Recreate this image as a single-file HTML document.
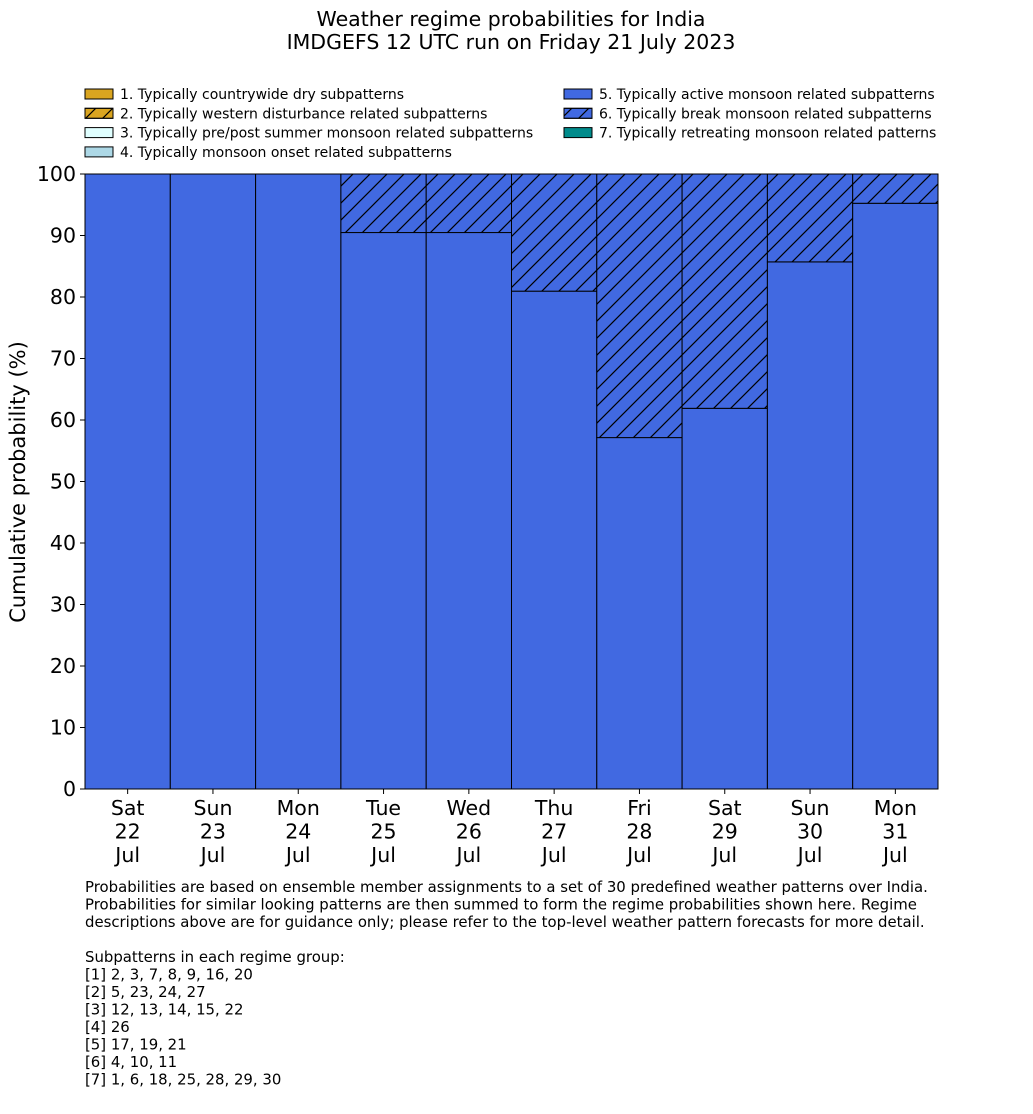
<!DOCTYPE html>
<html><head><meta charset="utf-8"><style>
body{margin:0;background:#fff;}
svg{display:block;font-family:"DejaVu Sans","Liberation Sans",sans-serif;}
</style></head><body>
<svg id="chart" width="1033" height="1114" viewBox="0 0 1033 1114">
<defs>
<pattern id="hatch" patternUnits="userSpaceOnUse" width="17" height="17">
<path d="M-2,19 L19,-2 M-4.25,4.25 L4.25,-4.25 M12.75,21.25 L21.25,12.75" stroke="#000" stroke-width="1.2"/>
</pattern>
</defs>
<text x="511" y="26" text-anchor="middle" font-size="20.5">Weather regime probabilities for India</text>
<text x="511" y="49" text-anchor="middle" font-size="20.5">IMDGEFS 12 UTC run on Friday 21 July 2023</text>
<g id="legend" font-size="14"></g>
<g id="bars"></g>
<g id="axes"></g>
<text transform="translate(25,482) rotate(-90)" text-anchor="middle" font-size="21">Cumulative probability (%)</text>
<g id="notes" font-size="14.9"></g>
</svg>
<script>
const days = ["Sat","Sun","Mon","Tue","Wed","Thu","Fri","Sat","Sun","Mon"];
const dates = ["22","23","24","25","26","27","28","29","30","31"];
const activeMonsoon = [100,100,100,90.48,90.48,80.95,57.14,61.90,85.71,95.24];
const breakMonsoon = [0,0,0,9.52,9.52,19.05,42.86,38.10,14.29,4.76];
const yTicks = [0,10,20,30,40,50,60,70,80,90,100];
const legendLabels = ["1. Typically countrywide dry subpatterns","2. Typically western disturbance related subpatterns","3. Typically pre/post summer monsoon related subpatterns","4. Typically monsoon onset related subpatterns","5. Typically active monsoon related subpatterns","6. Typically break monsoon related subpatterns","7. Typically retreating monsoon related patterns"];
const legendColors = ["#daa520","#daa520","#e0ffff","#add8e6","#4169e1","#4169e1","#008b8b"];
const legendHatch = [false,true,false,false,false,true,false];
const notes = ["Probabilities are based on ensemble member assignments to a set of 30 predefined weather patterns over India.","Probabilities for similar looking patterns are then summed to form the regime probabilities shown here. Regime","descriptions above are for guidance only; please refer to the top-level weather pattern forecasts for more detail.","","Subpatterns in each regime group:","[1] 2, 3, 7, 8, 9, 16, 20","[2] 5, 23, 24, 27","[3] 12, 13, 14, 15, 22","[4] 26","[5] 17, 19, 21","[6] 4, 10, 11","[7] 1, 6, 18, 25, 28, 29, 30"];

const NS="http://www.w3.org/2000/svg";
const X0=85,X1=938,Y0=789,Y1=174;
const bw=(X1-X0)/days.length;
const xs=i=>X0+i*bw;
const ys=v=>Y0-(v/100)*(Y0-Y1);
function mk(tag,attrs,parent){const e=document.createElementNS(NS,tag);for(const k in attrs)e.setAttribute(k,attrs[k]);parent.appendChild(e);return e;}
const bars=document.getElementById('bars');
days.forEach((d,i)=>{
  const a=activeMonsoon[i], b=breakMonsoon[i];
  const r=mk('rect',{x:xs(i),y:ys(a),width:bw,height:ys(0)-ys(a),fill:'#4169e1',stroke:'#000','stroke-width':1},bars);
  
  
  if(b>0){
    const r2=mk('rect',{x:xs(i),y:ys(a+b),width:bw,height:ys(a)-ys(a+b),fill:'#4169e1',stroke:'none'},bars);
    
    
    const h=mk('rect',{x:xs(i),y:ys(a+b),width:bw,height:ys(a)-ys(a+b),fill:'url(#hatch)',stroke:'#000','stroke-width':1},bars);
    
    
  }
});
const axes=document.getElementById('axes');
let l=mk('line',{x1:X0,y1:Y1,x2:X0,y2:Y0,stroke:'#000','stroke-width':1},axes);


l=mk('line',{x1:X0,y1:Y0,x2:X1,y2:Y0,stroke:'#000','stroke-width':1},axes);


yTicks.forEach(v=>{
  const t=mk('line',{x1:X0-5,x2:X0,y1:ys(v),y2:ys(v),stroke:'#000'},axes);
  
  
  const tx=mk('text',{x:X0-9,y:ys(v)+7,'text-anchor':'end','font-size':20.5},axes);
  tx.textContent=v;
  
  
});
days.forEach((d,i)=>{
  const cx=xs(i)+bw/2;
  const t=mk('line',{x1:cx,x2:cx,y1:Y0,y2:Y0+5,stroke:'#000'},axes);
  
  
  [d,dates[i],'Jul'].forEach((s,k)=>{
    const tx=mk('text',{x:cx,y:Y0+26+k*23.5,'text-anchor':'middle','font-size':20.5},axes);
    tx.textContent=s;
    
    
  });
});
const lg=document.getElementById('legend');
legendLabels.forEach((s,i)=>{
  const col=i<4?0:1, row=i<4?i:i-4;
  const x=col?564:85, y=89+row*19.3;
  const p=mk('rect',{x:x,y:y,width:28,height:10,fill:legendColors[i],stroke:'#000','stroke-width':1},lg);
  
  
  if(legendHatch[i]){mk('rect',{x:x,y:y,width:28,height:10,fill:'url(#hatch)',stroke:'#000','stroke-width':1},lg);}
  const t=mk('text',{x:x+35,y:y+10},lg);
  t.textContent=s;
  
  
});
const nt=document.getElementById('notes');
notes.forEach((s,i)=>{
  const t=mk('text',{x:85,y:892+i*17.5},nt);
  t.textContent=s;
  
  
});
</script>
</body></html>
